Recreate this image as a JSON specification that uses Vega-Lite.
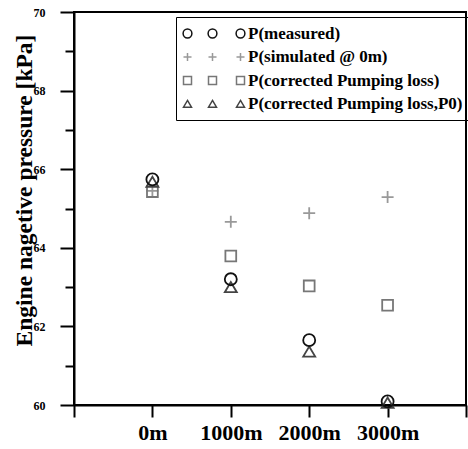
{
  "$schema": "https://vega.github.io/schema/vega-lite/v6.json",
  "width": 392,
  "height": 393,
  "autosize": "none",
  "padding": {"left": 74, "top": 12, "right": 2, "bottom": 44},
  "background": "white",
  "config": {"view": {"stroke": "#000", "strokeWidth": 2}, "font": "Liberation Serif"},
  "data": {"values": [
    {"alt": 0, "series": "P(simulated @ 0m)", "p": 65.45},
    {"alt": 1000, "series": "P(simulated @ 0m)", "p": 64.66},
    {"alt": 2000, "series": "P(simulated @ 0m)", "p": 64.88},
    {"alt": 3000, "series": "P(simulated @ 0m)", "p": 65.29},
    {"alt": 0, "series": "P(corrected Pumping loss)", "p": 65.43},
    {"alt": 1000, "series": "P(corrected Pumping loss)", "p": 63.79},
    {"alt": 2000, "series": "P(corrected Pumping loss)", "p": 63.03},
    {"alt": 3000, "series": "P(corrected Pumping loss)", "p": 62.54},
    {"alt": 0, "series": "P(corrected Pumping loss,P0)", "p": 65.68},
    {"alt": 1000, "series": "P(corrected Pumping loss,P0)", "p": 63.0},
    {"alt": 2000, "series": "P(corrected Pumping loss,P0)", "p": 61.36},
    {"alt": 3000, "series": "P(corrected Pumping loss,P0)", "p": 60.06},
    {"alt": 0, "series": "P(measured)", "p": 65.74},
    {"alt": 1000, "series": "P(measured)", "p": 63.2},
    {"alt": 2000, "series": "P(measured)", "p": 61.65},
    {"alt": 3000, "series": "P(measured)", "p": 60.09}
  ]},
  "layer": [
    {
      "mark": {"type": "point", "filled": false, "strokeWidth": 1.8, "size": 144, "opacity": 1},
      "encoding": {
        "x": {
          "field": "alt", "type": "quantitative",
          "scale": {"domain": [-1000, 4000], "nice": false, "zero": false},
          "axis": {
            "values": [-1000, 0, 1000, 2000, 3000, 4000],
            "labelExpr": "datum.value >= 0 && datum.value <= 3000 ? datum.value + 'm' : ''",
            "title": null, "grid": false,
            "domainColor": "#000", "domainWidth": 2,
            "tickColor": "#000", "tickWidth": 2, "tickSize": 12,
            "labelFont": "Liberation Serif", "labelFontWeight": "bold", "labelFontSize": 22,
            "labelColor": "#000", "labelPadding": 5, "labelFlush": false, "labelOverlap": false
          }
        },
        "y": {
          "field": "p", "type": "quantitative",
          "scale": {"domain": [60, 70], "nice": false, "zero": false},
          "axis": {
            "values": [60, 62, 64, 66, 68, 70],
            "title": "Engine nagetive pressure [kPa]",
            "titleFont": "Liberation Serif", "titleFontWeight": "bold", "titleFontSize": 23.5,
            "titleColor": "#000", "titleX": -38, "titleY": 178, "titleAngle": -90,
            "titleAlign": "center", "titleBaseline": "bottom",
            "grid": false,
            "domainColor": "#000", "domainWidth": 2,
            "tickColor": "#000", "tickWidth": 2, "tickSize": 14,
            "labelFont": "Liberation Serif", "labelFontWeight": "bold", "labelFontSize": 12,
            "labelColor": "#000", "labelPadding": 15, "labelFlush": false
          }
        },
        "shape": {
          "field": "series", "type": "nominal",
          "scale": {
            "domain": ["P(measured)", "P(simulated @ 0m)", "P(corrected Pumping loss)", "P(corrected Pumping loss,P0)"],
            "range": ["circle", "M-1,0H1M0,-1V1", "M-0.9,-0.9H0.9V0.9H-0.9Z", "M0,-0.85L1,0.85H-1Z"]
          },
          "legend": null
        },
        "stroke": {
          "field": "series", "type": "nominal",
          "scale": {
            "domain": ["P(measured)", "P(simulated @ 0m)", "P(corrected Pumping loss)", "P(corrected Pumping loss,P0)"],
            "range": ["#111111", "#999999", "#777777", "#444444"]
          },
          "legend": null
        }
      }
    },
    {
      "transform": [{"filter": "false"}],
      "mark": {"type": "point", "filled": false, "strokeWidth": 1.5, "size": 64, "opacity": 1},
      "encoding": {
        "shape": {
          "field": "series", "type": "nominal",
          "scale": {
            "domain": ["P(measured)", "P(simulated @ 0m)", "P(corrected Pumping loss)", "P(corrected Pumping loss,P0)"],
            "range": [
              "M-2.35,0A1.1,1.1 0 1,0 -0.15,0A1.1,1.1 0 1,0 -2.35,0M3.9,0A1.1,1.1 0 1,0 6.1,0A1.1,1.1 0 1,0 3.9,0M10.9,0A1.1,1.1 0 1,0 13.1,0A1.1,1.1 0 1,0 10.9,0",
              "M-2.25,0H-0.25M-1.25,-1V1M4,0H6M5,-1V1M11,0H13M12,-1V1",
              "M-2.25,-1H-0.25V1H-2.25ZM4,-1H6V1H4ZM11,-1H13V1H11Z",
              "M-1.25,-0.9L-0.25,0.8H-2.25ZM5,-0.9L6,0.8H4ZM12,-0.9L13,0.8H11Z"
            ]
          },
          "legend": {
            "title": null,
            "orient": "none", "legendX": 102, "legendY": 5,
            "padding": 8, "strokeColor": "#000",
            "symbolSize": 64, "symbolStrokeWidth": 1.5,
            "labelFont": "Liberation Serif", "labelFontWeight": "bold", "labelFontSize": 17,
            "labelColor": "#000", "labelOffset": 47, "rowPadding": 5.5, "labelLimit": 400
          }
        },
        "stroke": {
          "field": "series", "type": "nominal",
          "scale": {
            "domain": ["P(measured)", "P(simulated @ 0m)", "P(corrected Pumping loss)", "P(corrected Pumping loss,P0)"],
            "range": ["#111111", "#999999", "#777777", "#444444"]
          }
        }
      }
    },
    {
      "mark": {"type": "point", "opacity": 0},
      "encoding": {
        "y": {
          "field": "p", "type": "quantitative",
          "axis": {
            "orient": "left", "values": [61, 63, 65, 67, 69],
            "tickSize": 9, "tickWidth": 2, "tickColor": "#000",
            "labels": false, "domain": false, "grid": false, "title": null
          }
        }
      }
    }
  ],
  "resolve": {
    "axis": {"y": "independent"},
    "scale": {"shape": "independent", "stroke": "independent"},
    "legend": {"shape": "independent", "stroke": "independent"}
  }
}
